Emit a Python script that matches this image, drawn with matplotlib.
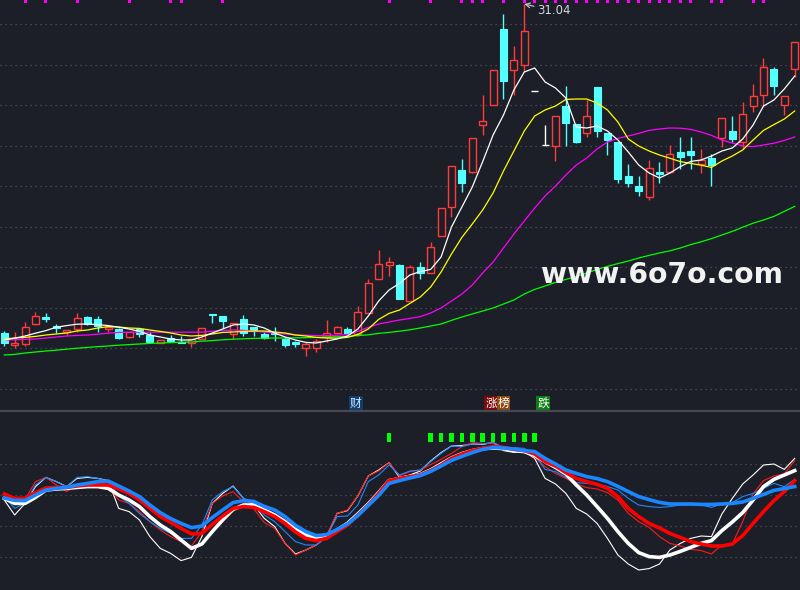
import matplotlib
matplotlib.use("Agg")
import matplotlib.pyplot as plt
import matplotlib.transforms as mtrans
import numpy as np

# ---- daily candles (price) ----
opens = [14.58,13.98,14.04,15.03,15.41,14.94,14.66,14.78,15.41,15.29,
         14.78,14.78,14.41,14.78,14.51,14.11,14.33,14.16,14.11,14.29,
         15.53,15.44,14.53,15.29,14.88,14.54,14.58,14.29,14.16,13.83,
         13.86,14.38,14.58,14.78,14.54,15.61,17.31,17.98,17.99,16.21,
         17.88,17.61,19.46,20.91,22.74,22.66,24.98,25.98,29.79,27.73,
         27.98,26.71,23.99,23.94,25.94,25.03,24.58,26.88,24.58,24.16,
         22.44,21.94,21.41,22.66,22.66,23.64,23.69,23.03,23.34,24.33,
         24.69,24.16,25.96,26.48,27.78,25.99,27.78]
highs = [14.71,14.63,15.13,15.63,15.58,15.04,14.74,15.58,15.44,15.44,
         14.88,14.83,14.63,14.83,14.66,14.24,14.48,14.44,14.29,14.83,
         15.54,15.44,15.11,15.49,14.91,14.66,14.88,14.38,14.19,14.16,
         14.28,15.24,14.94,14.88,15.94,17.28,18.74,18.41,18.04,17.98,
         18.14,19.14,20.84,22.94,23.28,24.33,26.49,27.73,30.54,28.94,
         31.04,26.71,24.99,25.43,26.96,25.03,26.24,26.88,24.58,24.16,
         23.04,22.44,23.24,23.16,23.99,24.41,24.41,23.78,23.54,25.33,
         25.44,26.13,27.04,28.33,27.91,26.46,29.13]
lows = [13.96,13.86,13.96,14.98,15.16,14.61,14.49,14.66,15.01,14.66,
        14.66,14.29,14.36,14.38,14.08,14.11,14.13,14.08,13.88,14.29,
        15.08,14.83,14.28,14.46,14.46,14.28,14.21,13.91,13.91,13.46,
        13.66,14.16,14.58,14.54,14.44,15.58,17.31,17.44,16.29,16.21,
        17.31,17.61,19.46,20.41,21.66,22.58,24.49,25.98,26.29,26.49,
        27.66,26.71,23.99,23.21,23.94,24.08,24.38,24.38,23.49,22.08,
        21.88,21.46,21.24,22.11,22.58,22.78,22.78,22.61,21.96,23.91,
        24.16,23.78,25.66,25.91,26.49,25.49,27.38]
closes = [14.11,14.08,14.88,15.44,15.28,14.84,14.74,15.33,15.04,14.94,
          14.88,14.36,14.63,14.53,14.14,14.24,14.21,14.11,14.29,14.83,
          15.51,15.21,15.08,14.58,14.69,14.36,14.53,13.99,14.03,14.03,
          14.19,14.58,14.88,14.58,15.66,17.08,18.04,18.14,16.29,17.88,
          17.58,18.88,20.83,22.94,22.11,24.33,25.18,27.73,27.18,28.23,
          29.68,26.71,23.99,25.43,25.11,24.16,25.46,24.71,24.24,22.29,
          22.11,21.71,22.83,22.54,23.53,23.38,23.49,23.24,23.01,25.33,
          24.28,25.53,26.46,27.88,26.96,26.46,29.13]

# moving averages as drawn
ma5 = [14.24,14.33,14.44,14.58,14.71,14.88,14.96,15.03,15.04,15.01,
       14.96,14.88,14.79,14.67,14.49,14.39,14.29,14.24,14.24,14.39,
       14.59,14.79,14.99,15.04,14.99,14.84,14.59,14.39,14.24,14.12,
       14.09,14.19,14.29,14.44,14.79,15.44,16.19,16.74,17.07,17.49,
       17.66,17.77,18.39,19.89,20.89,21.89,23.16,24.49,25.49,26.74,
       27.64,27.84,27.14,26.84,26.34,24.89,24.84,24.94,24.69,24.24,
       23.64,22.99,22.59,22.34,22.59,22.91,23.17,23.24,23.44,23.69,
       23.84,24.29,24.99,25.94,26.24,26.79,27.44]
ma10 = [14.29,14.34,14.37,14.42,14.49,14.54,14.59,14.69,14.74,14.84,
        14.91,14.89,14.84,14.82,14.74,14.67,14.59,14.49,14.44,14.47,
        14.54,14.62,14.64,14.67,14.69,14.69,14.64,14.59,14.49,14.44,
        14.37,14.34,14.33,14.37,14.52,14.79,15.27,15.57,15.74,16.07,
        16.39,16.89,17.64,18.54,19.37,20.04,20.74,21.59,22.69,23.69,
        24.69,25.44,25.74,25.94,26.27,26.29,26.29,26.09,25.74,25.14,
        24.29,23.94,23.69,23.49,23.33,23.16,23.07,22.98,22.87,23.19,
        23.44,23.74,24.24,24.72,25.01,25.29,25.69]
ma20 = [14.24,14.25,14.27,14.29,14.34,14.39,14.44,14.47,14.49,14.53,
        14.58,14.62,14.63,14.63,14.63,14.63,14.63,14.63,14.63,14.63,
        14.68,14.72,14.74,14.72,14.68,14.64,14.59,14.54,14.49,14.48,
        14.46,14.46,14.48,14.51,14.67,14.87,15.04,15.14,15.24,15.32,
        15.41,15.59,15.84,16.19,16.54,16.99,17.59,18.14,18.84,19.54,
        20.19,20.84,21.44,21.94,22.49,22.99,23.34,23.79,24.14,24.32,
        24.44,24.57,24.72,24.79,24.84,24.83,24.77,24.64,24.47,24.24,
        24.09,23.94,23.91,23.99,24.08,24.22,24.39]
ma60 = [13.49,13.52,13.59,13.64,13.69,13.73,13.78,13.83,13.87,13.91,
        13.94,13.98,14.01,14.04,14.07,14.09,14.11,14.13,14.14,14.18,
        14.21,14.25,14.28,14.30,14.32,14.33,14.34,14.34,14.35,14.36,
        14.37,14.39,14.40,14.42,14.46,14.50,14.57,14.62,14.68,14.75,
        14.84,14.94,15.04,15.22,15.39,15.54,15.69,15.84,16.04,16.24,
        16.54,16.77,16.94,17.12,17.27,17.42,17.59,17.77,17.92,18.06,
        18.19,18.34,18.47,18.59,18.70,18.84,19.01,19.15,19.31,19.49,
        19.67,19.88,20.08,20.24,20.42,20.67,20.92]

top_marks = [2, 4, 7, 12, 16, 17, 21, 37, 41, 44, 45, 46, 48, 50, 51, 52, 53, 54,
             55, 56, 57, 58, 59, 60, 61, 62, 63, 64, 65, 66, 68, 69, 72, 73]
peak_label = "31.04"

# ---- indicator panel ----
white_thick = [45.8,43.3,43.3,46.3,50.0,50.5,50.8,51.3,51.7,51.7,
               50.8,47.5,45.0,41.7,36.7,32.5,29.2,25.0,20.8,23.0,
               29.2,35.0,40.3,42.5,42.5,40.0,37.5,34.2,30.3,27.5,
               25.8,26.7,30.0,33.3,38.0,43.0,48.7,54.7,55.7,56.7,
               57.7,60.0,63.0,66.0,68.2,69.7,70.7,71.0,70.7,69.7,
               69.2,67.2,64.2,61.3,58.0,52.5,47.5,41.7,35.8,29.2,
               23.3,18.7,16.7,16.3,17.5,19.3,21.3,23.3,24.7,29.7,
               34.0,38.7,45.0,51.7,55.3,57.5,59.7]
red_thick = [48.0,45.8,45.8,48.7,51.0,51.3,51.3,52.0,52.5,52.5,
             52.5,50.5,48.3,45.0,40.8,36.7,33.8,30.8,28.0,28.3,
             32.8,37.0,40.8,41.7,41.3,39.2,36.7,33.3,29.0,25.8,
             24.7,25.8,29.2,32.5,37.5,42.5,48.3,54.7,55.8,56.7,
             57.5,59.7,62.5,65.8,68.0,69.7,70.8,71.7,71.3,70.3,
             69.7,68.0,64.2,62.0,58.7,55.8,54.2,52.8,50.8,46.7,
             40.8,36.7,33.3,31.0,28.3,26.3,24.2,23.0,22.0,22.0,
             23.0,27.2,33.3,39.2,44.7,49.2,54.7]
blue_thick = [46.0,44.8,44.7,47.5,50.0,50.8,51.3,52.5,53.3,54.2,
              54.5,52.0,49.5,46.7,42.5,38.7,35.7,33.3,31.2,32.0,
              36.2,40.0,43.7,44.7,44.3,41.8,40.0,36.7,32.3,29.2,
              27.2,27.7,30.2,33.0,37.2,42.3,47.3,53.3,54.7,56.0,
              57.2,59.3,62.0,64.8,66.8,68.7,70.3,71.3,71.0,70.5,
              69.7,69.2,65.8,63.0,60.0,58.3,56.7,55.7,54.2,51.8,
              49.2,46.7,45.2,43.8,43.0,43.0,43.0,42.8,42.8,43.0,
              43.3,44.0,45.8,47.8,49.8,50.7,51.7]
white_thin = [45.0,37.5,43.3,51.7,56.3,54.2,51.7,55.8,56.3,55.8,
              54.7,40.8,39.2,35.0,26.7,20.8,18.3,14.7,16.3,26.7,
              43.3,48.3,52.0,45.8,42.5,35.8,31.7,23.3,18.0,20.0,
              22.5,26.7,38.3,39.7,47.0,57.0,60.0,63.7,56.3,57.5,
              59.5,64.5,68.7,72.0,72.2,73.0,72.8,73.8,69.7,68.8,
              69.2,65.8,55.8,53.0,48.3,40.8,38.0,33.3,25.8,17.5,
              13.0,10.0,10.7,13.0,20.0,23.3,25.8,27.0,26.7,38.0,
              45.8,53.0,57.5,62.5,63.0,60.3,65.8]
red_thin = [48.3,43.3,45.3,54.2,56.3,52.5,49.2,52.5,53.3,52.8,
            51.7,45.0,43.3,39.2,34.2,30.0,26.7,24.2,22.0,29.2,
            43.3,47.0,49.2,44.2,40.5,33.7,30.8,23.3,17.5,20.0,
            22.5,27.5,38.3,40.0,47.0,57.0,59.5,63.7,57.0,59.2,
            60.0,62.7,65.3,68.3,71.7,73.7,73.3,73.3,70.0,70.0,
            69.2,66.3,61.7,58.3,55.8,53.0,51.2,50.5,48.7,45.0,
            38.3,34.2,31.3,26.7,23.3,22.0,20.3,19.7,18.0,22.5,
            23.0,34.2,48.0,54.7,57.0,58.0,64.7]
blue_thin = [46.7,40.8,43.3,52.5,56.3,54.2,51.7,56.3,56.7,55.8,
             54.2,47.0,43.3,38.3,34.2,30.8,28.3,25.8,25.8,32.5,
             45.0,49.2,51.7,45.8,44.2,37.5,34.2,29.2,24.2,22.5,
             22.5,26.7,36.7,37.0,42.5,54.2,57.5,62.5,57.5,59.5,
             60.0,64.2,68.3,72.0,71.7,73.0,73.0,73.8,71.3,71.2,
             70.8,67.7,60.3,59.2,56.3,53.7,53.3,53.0,51.7,50.0,
             45.8,42.5,41.7,41.3,41.7,42.5,42.5,42.5,41.3,43.0,
             43.7,46.7,48.3,50.8,53.3,51.7,55.3]
signal_days = [37, 41, 42, 43, 44, 45, 46, 47, 48, 49, 50, 51]

BG = "#1c1f27"
RED = "#ff3b3b"
CYAN = "#54ffff"
CJK = ["Noto Sans CJK SC", "DejaVu Sans"]

x = np.arange(len(closes))
o = np.array(opens); c = np.array(closes)
h = np.array(highs); l = np.array(lows)

fig = plt.figure(figsize=(8, 5.9), dpi=100, facecolor=BG)
ax = fig.add_axes([0, 179 / 590, 1, 411 / 590], facecolor=BG)
ax2 = fig.add_axes([0, 0, 1, 179 / 590], facecolor=BG)

for a in (ax, ax2):
    a.set_xlim(-0.41, 76.51)
    a.tick_params(left=False, labelleft=False, bottom=False, labelbottom=False)
    for s in a.spines.values():
        s.set_visible(False)
    a.grid(axis="y", color="#50545d", linestyle=(0, (1, 3)), linewidth=0.9)
    a.set_axisbelow(True)

ax.set_ylim(10.69, 31.24)
ax.set_yticks(np.linspace(30.04, 11.79, 10))
ax2.set_ylim(0, 89.5)
ax2.set_yticks(np.linspace(16.3, 62.8, 4))
ax2.spines["top"].set_visible(True)
ax2.spines["top"].set_color("#454952")
ax2.spines["top"].set_linewidth(1.6)

# candles
cols = np.where(c > o, RED, np.where(c < o, CYAN, "#ffffff"))
ax.vlines(x, l, h, colors=cols, linewidth=1.0, zorder=2)
up = c > o
bw = 0.67
ax.bar(x[up], (c - o)[up], bottom=o[up], width=bw, facecolor=BG,
       edgecolor=RED, linewidth=1.0, zorder=3)
dn = c < o
ax.bar(x[dn], (o - c)[dn], bottom=c[dn], width=bw, facecolor=CYAN,
       edgecolor=CYAN, linewidth=0.8, zorder=3)
eq = c == o
ax.hlines(c[eq], x[eq] - bw / 2, x[eq] + bw / 2, colors="#ffffff", linewidth=1.0, zorder=3)

# moving averages
ax.plot(x, ma60, color="#00ff00", lw=0.9, zorder=4)
ax.plot(x, ma20, color="#ff00ff", lw=0.9, zorder=4)
ax.plot(x, ma10, color="#ffff00", lw=0.9, zorder=4)
ax.plot(x, ma5, color="#ffffff", lw=0.9, zorder=4)

# small markers at the top edge
ax.bar(top_marks, 0.15, bottom=31.09, width=0.3, color="#ff00ff", zorder=5)

ax.annotate(peak_label, xy=(int(np.argmax(h)), max(highs)), xytext=(9, -5),
            textcoords="offset points", ha="left", va="center", fontsize=8.5,
            color="#d4d8e0",
            arrowprops=dict(arrowstyle="->", color="#c8ccd4", lw=0.8,
                            shrinkA=0, shrinkB=0))

# tags above the indicator panel
tr = mtrans.blended_transform_factory(ax.transData, ax.transAxes)
ax.text(33.8, 0.0195, "财", transform=tr, ha="center", va="center", fontsize=8.5,
        family=CJK, color="#d6e6ff",
        bbox=dict(boxstyle="square,pad=0.08", fc="#0f3e70", ec="none"))
ax.text(46.8, 0.0195, "涨", transform=tr, ha="center", va="center", fontsize=8.5,
        family=CJK, color="#ffffff",
        bbox=dict(boxstyle="square,pad=0.08", fc="#7c0a0a", ec="none"))
ax.text(48.0, 0.0195, "榜", transform=tr, ha="center", va="center", fontsize=8.5,
        family=CJK, color="#ffffff",
        bbox=dict(boxstyle="square,pad=0.08", fc="#8a4a12", ec="none"))
ax.text(51.8, 0.0195, "跌", transform=tr, ha="center", va="center", fontsize=8.5,
        family=CJK, color="#ffffff",
        bbox=dict(boxstyle="square,pad=0.08", fc="#0d7f14", ec="none"))

# indicator lines
ax2.plot(x, white_thin, color="#ffffff", lw=0.8, zorder=3)
ax2.plot(x, red_thin, color="#ff1a1a", lw=0.8, zorder=3)
ax2.plot(x, blue_thin, color="#1e88ff", lw=0.8, zorder=3)
ax2.plot(x, white_thick, color="#ffffff", lw=2.6, zorder=4)
ax2.plot(x, red_thick, color="#ff0000", lw=2.6, zorder=4)
ax2.plot(x, blue_thick, color="#1a86ff", lw=2.6, zorder=4)
ax2.bar(signal_days, 4.1, bottom=74.2, width=0.45, color="#00ff00", zorder=5)

fig.text(0.8275, 0.534, "www.6o7o.com", ha="center", va="center", fontsize=20.3,
         fontweight="bold", color="#f2f2f2")

fig.savefig("out.png", dpi=100, facecolor=BG)
